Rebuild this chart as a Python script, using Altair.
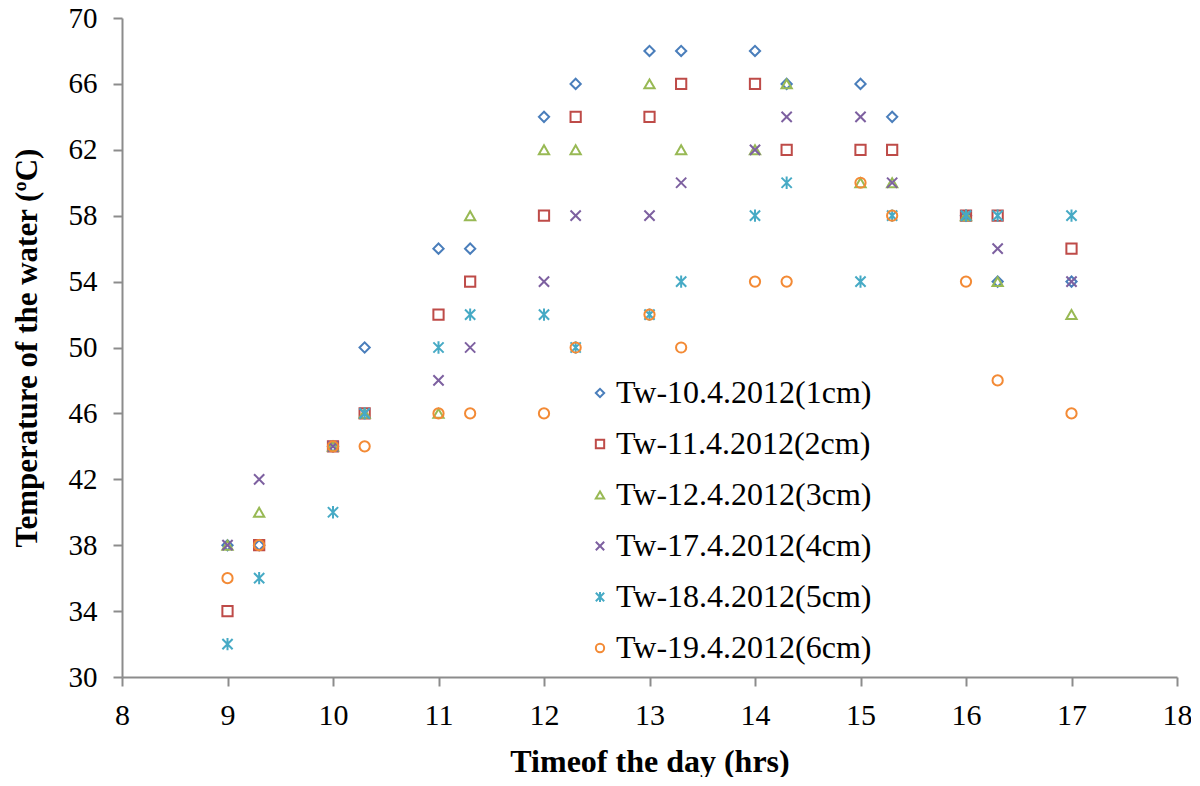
import altair as alt
import pandas as pd

times = [9, 9.3, 10, 10.3, 11, 11.3, 12, 12.3, 13, 13.3, 14, 14.3, 15, 15.3, 16, 16.3, 17]

series_names = [
    "Tw-10.4.2012(1cm)",
    "Tw-11.4.2012(2cm)",
    "Tw-12.4.2012(3cm)",
    "Tw-17.4.2012(4cm)",
    "Tw-18.4.2012(5cm)",
    "Tw-19.4.2012(6cm)",
]

tw_10 = [38, 38, 44, 50, 56, 56, 64, 66, 68, 68, 68, 66, 66, 64, 58, 54, 54]
tw_11 = [34, 38, 44, 46, 52, 54, 58, 64, 64, 66, 66, 62, 62, 62, 58, 58, 56]
tw_12 = [38, 40, 44, 46, 46, 58, 62, 62, 66, 62, 62, 66, 60, 60, 58, 54, 52]
tw_17 = [38, 42, 44, 46, 48, 50, 54, 58, 58, 60, 62, 64, 64, 60, 58, 56, 54]
tw_18 = [32, 36, 40, 46, 50, 52, 52, 50, 52, 54, 58, 60, 54, 58, 58, 58, 58]
tw_19 = [36, 38, 44, 44, 46, 46, 46, 50, 52, 50, 54, 54, 60, 58, 54, 48, 46]

all_series = [tw_10, tw_11, tw_12, tw_17, tw_18, tw_19]

x_ticks = list(range(8, 19))
y_ticks = list(range(30, 71, 4))

colors = ["#4A7EBB", "#BE4B48", "#98B954", "#7D60A0", "#46AAC5", "#F38A35"]
shapes = [
    "diamond",
    "square",
    "triangle-up",
    "M-1,-1L1,1M-1,1L1,-1",
    "M-1,-1L1,1M-1,1L1,-1M0,-1.2L0,1.2",
    "circle",
]

rows = []
for si, (name, vals) in enumerate(zip(series_names, all_series)):
    for t, v in zip(times, vals):
        rows.append({"time": t, "temp": v, "series": name, "order": si})
df = pd.DataFrame(rows)

FONT = "Liberation Serif"

chart = (
    alt.Chart(df)
    .mark_point(filled=False, strokeWidth=2, size=105, opacity=1)
    .encode(
        x=alt.X(
            "time:Q",
            scale=alt.Scale(domain=[8, 18], nice=False, zero=False),
            axis=alt.Axis(
                values=x_ticks,
                title="Timeof the day (hrs)",
                titleFont=FONT,
                titleFontSize=32,
                titleFontWeight="bold",
                titleColor="black",
                titleY=94,
                titleBaseline="alphabetic",
                labelFont=FONT,
                labelFontSize=30,
                labelColor="black",
                labelPadding=14,
                labelFlush=False,
                tickSize=9,
                tickColor="#8C8C8C",
                tickWidth=2,
                domainColor="#8C8C8C",
                domainWidth=2,
                grid=False,
                format="d",
            ),
        ),
        y=alt.Y(
            "temp:Q",
            scale=alt.Scale(domain=[30, 70], nice=False, zero=False),
            axis=alt.Axis(
                values=y_ticks,
                title="Temperature of the water (ºC)",
                titleFont=FONT,
                titleFontSize=31,
                titleFontWeight="bold",
                titleColor="black",
                titleX=-86,
                titleBaseline="alphabetic",
                labelFont=FONT,
                labelFontSize=29,
                labelColor="black",
                labelPadding=16,
                labelFlush=False,
                tickSize=9,
                tickColor="#8C8C8C",
                tickWidth=2,
                domainColor="#8C8C8C",
                domainWidth=2,
                grid=False,
            ),
        ),
        color=alt.Color(
            "series:N",
            scale=alt.Scale(domain=series_names, range=colors),
            legend=alt.Legend(
                title=None,
                orient="none",
                legendX=462,
                legendY=359,
                labelFont=FONT,
                labelFontSize=32,
                labelColor="black",
                labelLimit=0,
                symbolSize=70,
                symbolStrokeWidth=2,
                rowPadding=19,
                labelOffset=0,
                padding=0,
            ),
        ),
        shape=alt.Shape(
            "series:N",
            scale=alt.Scale(domain=series_names, range=shapes),
        ),
        order=alt.Order("order:Q"),
    )
    .properties(
        width=1055,
        height=659,
        autosize=alt.AutoSizeParams(type="none"),
        padding={"left": 114, "top": 10, "right": 14, "bottom": 100},
    )
    .configure_view(stroke=None)
)

chart.save("out.html", embed_options={"renderer": "svg", "actions": False})
